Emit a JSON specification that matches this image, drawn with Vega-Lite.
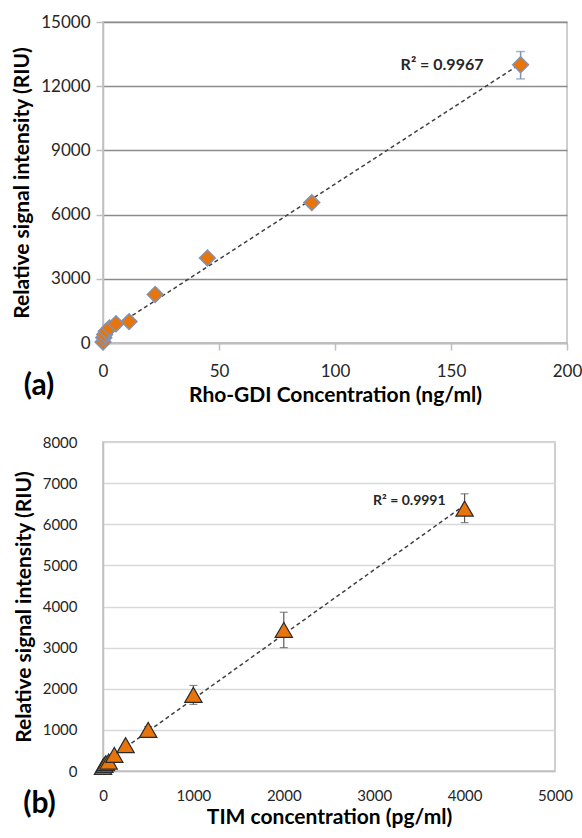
{
  "$schema": "https://vega.github.io/schema/vega-lite/v6.json",
  "padding": {"left": 10, "top": 12, "right": 0, "bottom": 0},
  "background": "white",
  "config": {
    "font": "Lato",
    "view": {"stroke": "#BFBFBF", "strokeWidth": 1.5},
    "axis": {"labelColor": "#262626", "titleColor": "#000000", "titleFontWeight": "bold", "titleFontSize": 21, "domainColor": "#BFBFBF", "domainWidth": 1.5, "labelFlush": false}
  },
  "spacing": 28,
  "vconcat": [
    {
      "width": 464,
      "height": 321,
      "title": {"text": "(a)", "orient": "bottom", "anchor": "start", "frame": "bounds", "fontSize": 30, "fontWeight": "bold", "color": "#000000", "offset": -34, "dx": 12},
      "data": {"values": [
        {"conc": 0, "signal": 50, "lo": null, "hi": null},
        {"conc": 0.35, "signal": 250, "lo": null, "hi": null},
        {"conc": 0.7, "signal": 400, "lo": null, "hi": null},
        {"conc": 1.4, "signal": 550, "lo": null, "hi": null},
        {"conc": 2.8, "signal": 700, "lo": null, "hi": null},
        {"conc": 5.6, "signal": 900, "lo": null, "hi": null},
        {"conc": 11.25, "signal": 1000, "lo": 900, "hi": 1100},
        {"conc": 22.5, "signal": 2270, "lo": 2150, "hi": 2390},
        {"conc": 45, "signal": 3970, "lo": 3820, "hi": 4120},
        {"conc": 90, "signal": 6560, "lo": 6380, "hi": 6740},
        {"conc": 180, "signal": 13000, "lo": 12340, "hi": 13620}
      ]},
      "encoding": {
        "x": {"field": "conc", "type": "quantitative", "scale": {"domain": [0, 200], "nice": false},
          "axis": {"title": "Rho-GDI Concentration (ng/ml)", "values": [0, 50, 100, 150, 200], "grid": false, "tickSize": 7, "tickColor": "#BFBFBF", "tickWidth": 1.5, "labelFontSize": 17, "labelPadding": 13, "titlePadding": 5}},
        "y": {"field": "signal", "type": "quantitative", "scale": {"domain": [0, 15000], "nice": false},
          "axis": {"title": "Relative signal intensity (RIU)", "values": [0, 3000, 6000, 9000, 12000, 15000], "format": "d", "grid": true, "gridColor": "#8C8C8C", "gridWidth": 1.3, "tickSize": 7, "tickColor": "#BFBFBF", "tickWidth": 1.5, "labelFontSize": 17, "labelPadding": 6, "titlePadding": 8}}
      },
      "layer": [
        {
          "transform": [{"regression": "signal", "on": "conc"}],
          "mark": {"type": "line", "strokeDash": [4, 3], "color": "#404040", "strokeWidth": 1.5}
        },
        {
          "transform": [{"filter": "datum.hi != null"}],
          "mark": {"type": "errorbar", "ticks": true, "size": 9, "thickness": 1.5, "color": "#7F93B5"},
          "encoding": {
            "y": {"field": "lo", "type": "quantitative", "title": "Relative signal intensity (RIU)"},
            "y2": {"field": "hi"}
          }
        },
        {
          "mark": {"type": "point", "shape": "diamond", "filled": true, "size": 250, "fill": "#E8740C", "stroke": "#8094B4", "strokeWidth": 1.5, "opacity": 1}
        },
        {
          "data": {"values": [{"conc": 164, "signal": 13000, "label": "R² = 0.9967"}]},
          "mark": {"type": "text", "align": "right", "baseline": "middle", "fontWeight": "bold", "fontSize": 16, "color": "#262626"},
          "encoding": {"text": {"field": "label"}}
        }
      ]
    },
    {
      "width": 452,
      "height": 329,
      "title": {"text": "(b)", "orient": "bottom", "anchor": "start", "frame": "bounds", "fontSize": 30, "fontWeight": "bold", "color": "#000000", "offset": -38, "dx": 10},
      "data": {"values": [
        {"conc": 0, "signal": 100, "lo": null, "hi": null},
        {"conc": 15.6, "signal": 150, "lo": null, "hi": null},
        {"conc": 31.25, "signal": 190, "lo": null, "hi": null},
        {"conc": 62.5, "signal": 230, "lo": null, "hi": null},
        {"conc": 125, "signal": 390, "lo": null, "hi": null},
        {"conc": 250, "signal": 630, "lo": null, "hi": null},
        {"conc": 500, "signal": 1000, "lo": 920, "hi": 1080},
        {"conc": 1000, "signal": 1850, "lo": 1620, "hi": 2080},
        {"conc": 2000, "signal": 3430, "lo": 3000, "hi": 3860},
        {"conc": 4000, "signal": 6380, "lo": 6040, "hi": 6740}
      ]},
      "encoding": {
        "x": {"field": "conc", "type": "quantitative", "scale": {"domain": [0, 5000], "nice": false},
          "axis": {"title": "TIM concentration (pg/ml)", "values": [0, 1000, 2000, 3000, 4000, 5000], "format": "d", "grid": false, "ticks": false, "labelFontSize": 15, "labelPadding": 17, "titlePadding": 3}},
        "y": {"field": "signal", "type": "quantitative", "scale": {"domain": [0, 8000], "nice": false},
          "axis": {"title": "Relative signal intensity (RIU)", "values": [0, 1000, 2000, 3000, 4000, 5000, 6000, 7000, 8000], "format": "d", "grid": true, "gridColor": "#D9D9D9", "gridWidth": 1.5, "ticks": false, "labelFontSize": 15, "labelPadding": 26, "titlePadding": 8}}
      },
      "layer": [
        {
          "transform": [{"regression": "signal", "on": "conc"}],
          "mark": {"type": "line", "strokeDash": [4, 3], "color": "#404040", "strokeWidth": 1.5}
        },
        {
          "transform": [{"filter": "datum.hi != null"}],
          "mark": {"type": "errorbar", "ticks": true, "size": 8, "thickness": 1.2, "color": "#595959"},
          "encoding": {
            "y": {"field": "lo", "type": "quantitative", "title": "Relative signal intensity (RIU)"},
            "y2": {"field": "hi"}
          }
        },
        {
          "mark": {"type": "point", "shape": "triangle-up", "filled": true, "size": 300, "fill": "#E8740C", "stroke": "#2B2B2B", "strokeWidth": 1.2, "opacity": 1}
        },
        {
          "data": {"values": [{"conc": 3790, "signal": 6560, "label": "R² = 0.9991"}]},
          "mark": {"type": "text", "align": "right", "baseline": "middle", "fontWeight": "bold", "fontSize": 14, "color": "#262626"},
          "encoding": {"text": {"field": "label"}}
        }
      ]
    }
  ]
}
